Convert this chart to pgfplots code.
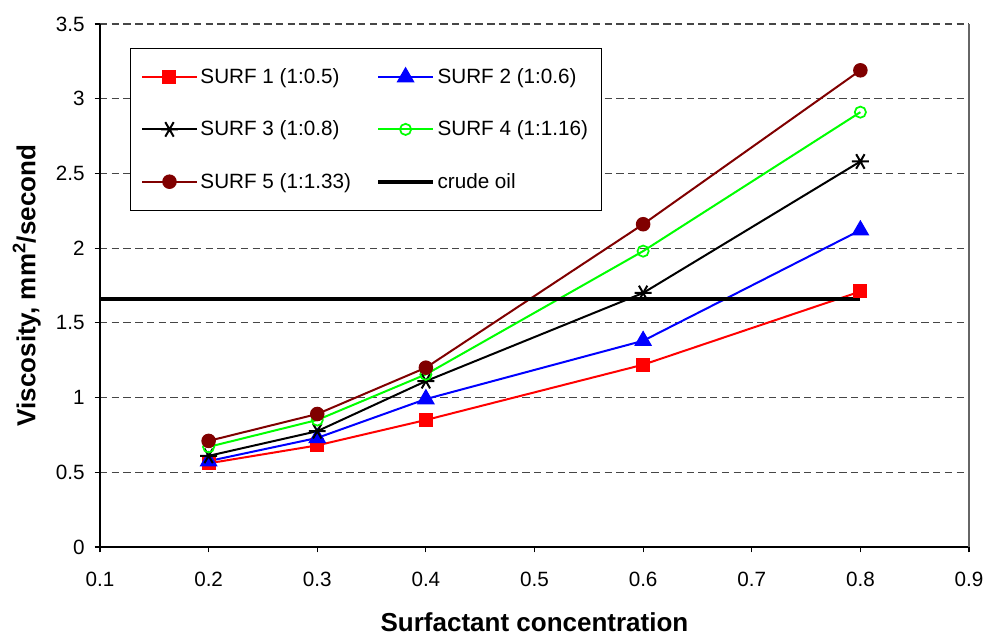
\documentclass[border=0pt]{standalone}
\usepackage{pgfplots}
\pgfplotsset{compat=1.18}
\usepackage{fontspec}
\setmainfont{Liberation Sans}
\definecolor{maroonc}{RGB}{128,0,0}
\definecolor{greenc}{RGB}{0,255,0}
\definecolor{gridc}{RGB}{70,70,70}
\begin{document}
\begin{tikzpicture}
\begin{axis}[
  scale only axis,
  width=651.75pt, height=392.25pt,
  xmin=0.1, xmax=0.9, ymin=0, ymax=3.5,
  clip=false,
  xtick={0.1,0.2,0.3,0.4,0.5,0.6,0.7,0.8,0.9},
  ytick={0,0.5,1,1.5,2,2.5,3,3.5},
  axis x line*=bottom, axis y line*=left,
  axis line style={line width=0.9pt, -},
  tick style={black, line width=0.8pt},
  tick align=outside, major tick length=4pt,
  ymajorgrids, grid style={gridc, line width=0.8pt, dash pattern=on 5.5pt off 3.3pt},
  /pgf/number format/assume math mode=true,
  ticklabel style={font=\fontsize{15.5}{18}\selectfont},
  yticklabel style={xshift=-4pt},
  xticklabel style={yshift=-11pt},
  xlabel={\bfseries Surfactant concentration},
  ylabel={\bfseries Viscosity, mm\textsuperscript{2}/second},
  label style={font=\fontsize{19.5}{23}\selectfont},
  xlabel style={at={(axis description cs:0.5,0)}, anchor=center, yshift=-56.5pt},
  ylabel style={at={(axis description cs:0,0.5)}, anchor=center, xshift=0pt, yshift=55pt},
  legend columns=2,
  legend cell align=left,
  legend style={at={(rel axis cs:0.0345,0.954)}, anchor=north west,
    draw=black, line width=0.8pt, font=\fontsize{15.5}{18}\selectfont,
    inner xsep=8pt, inner ysep=13pt, row sep=22.5pt,
    /tikz/every even column/.append style={column sep=17pt}},
  legend image code/.code={
    \draw[mark repeat=2,mark phase=2] plot coordinates {(0cm,0cm) (0.72cm,0cm) (1.44cm,0cm)};},
]
\addplot[red, line width=1.5pt, mark=square*, mark size=4.5pt, mark options={solid}] coordinates {
(0.2,0.56) (0.3,0.68) (0.4,0.85) (0.6,1.22) (0.8,1.71)};
\addlegendentry{SURF 1 (1:0.5)}
\addplot[blue, line width=1.5pt, mark=triangle*, mark size=6.3pt] coordinates {
(0.2,0.575) (0.3,0.73) (0.4,0.99) (0.6,1.38) (0.8,2.12)};
\addlegendentry{SURF 2 (1:0.6)}
\addplot[black, line width=1.5pt, mark=asterisk, mark size=6.3pt, mark options={line width=1.5pt, rotate=90}] coordinates {
(0.2,0.61) (0.3,0.775) (0.4,1.11) (0.6,1.70) (0.8,2.58)};
\addlegendentry{SURF 3 (1:0.8)}
\addplot[greenc, line width=1.5pt, mark=o, mark size=4.2pt, mark options={line width=1.3pt}] coordinates {
(0.2,0.67) (0.3,0.85) (0.4,1.155) (0.6,1.98) (0.8,2.91)};
\addlegendentry{SURF 4 (1:1.16)}
\addplot[maroonc, line width=1.5pt, mark=*, mark size=4.7pt] coordinates {
(0.2,0.71) (0.3,0.89) (0.4,1.20) (0.6,2.16) (0.8,3.19)};
\addlegendentry{SURF 5 (1:1.33)}
\addplot[black, line width=3pt] coordinates {(0.1,1.66) (0.8,1.66)};
\addlegendentry{crude oil}
\draw[gray!80!black, line width=0.9pt] (rel axis cs:1,0) -- (rel axis cs:1,1);
\coordinate (TL) at ([shift={(-75pt,18pt)}]rel axis cs:0,1);
\coordinate (BR) at ([shift={(14.25pt,-66.75pt)}]rel axis cs:1,0);
\end{axis}
\pgfresetboundingbox
\path (TL) rectangle (BR);
\end{tikzpicture}
\end{document}
